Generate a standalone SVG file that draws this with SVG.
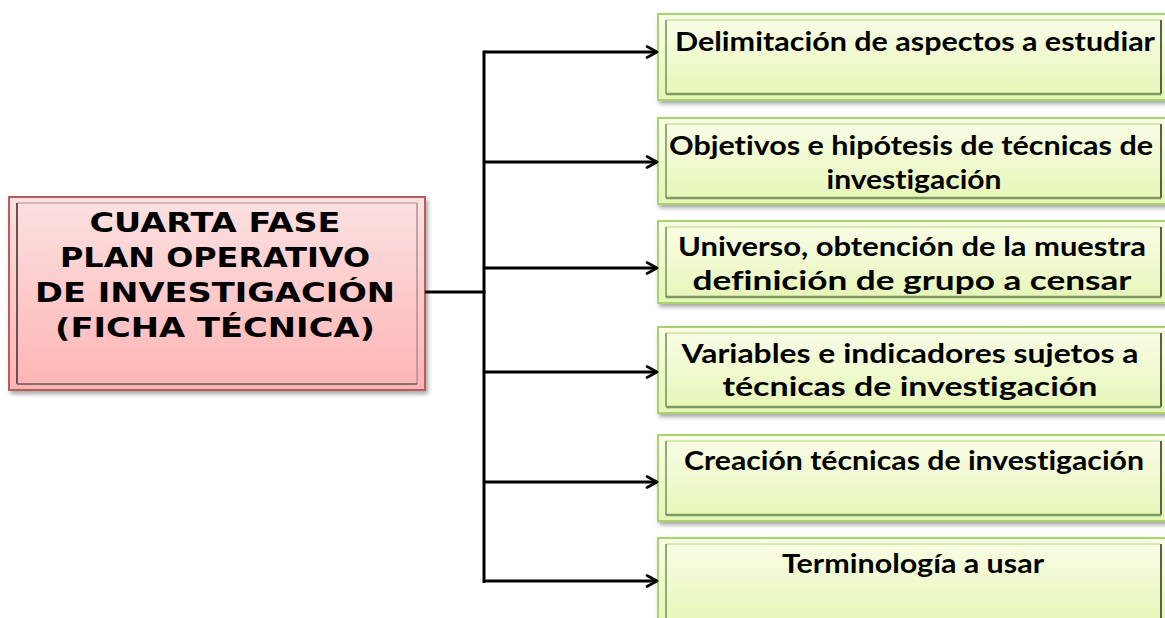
<svg xmlns="http://www.w3.org/2000/svg" width="1165" height="618" viewBox="0 0 1165 618">
<defs>
<linearGradient id="gGreen" x1="0" y1="0" x2="0" y2="1">
<stop offset="0" stop-color="#fafde8"/>
<stop offset="1" stop-color="#e6f6b6"/>
</linearGradient>
<linearGradient id="gPink" x1="0" y1="0" x2="0" y2="1">
<stop offset="0" stop-color="#fbe1e1"/>
<stop offset="1" stop-color="#ffb4b4"/>
</linearGradient>
<filter id="sh" x="-5%" y="-10%" width="115%" height="130%">
<feDropShadow dx="2" dy="3" stdDeviation="2" flood-color="#000" flood-opacity="0.35"/>
</filter>
<marker id="arr" viewBox="0 0 14 14" refX="12" refY="7" markerWidth="14" markerHeight="14" markerUnits="userSpaceOnUse" orient="auto">
<path d="M2,1.5 L12,7 L2,12.5" fill="none" stroke="#000" stroke-width="2.6" stroke-linecap="round" stroke-linejoin="round"/>
</marker>
</defs>
<style>
.gOuter{fill:url(#gGreen);stroke:#a8d46c;stroke-width:2}
.gBevL{stroke:#8fae74;stroke-width:2}
.gBevT{stroke:#d4ecac;stroke-width:2}
.gBevB{stroke:#7d9860;stroke-width:2.5}
.gBevR{stroke:#55634a;stroke-width:2}
.pOuter{fill:url(#gPink);stroke:#b85c5c;stroke-width:2}
.pBevL{stroke:#6e5050;stroke-width:2}
.pBevT{stroke:#c9a6a6;stroke-width:1.5}
.pBevB{stroke:#8c7070;stroke-width:2}
.pBevR{stroke:#b09090;stroke-width:1.5}
.gt{font-family:Lato,"Open Sans","Liberation Sans",sans-serif;font-weight:bold;font-size:27px;fill:#000;text-anchor:middle;font-variant-ligatures:none}
.pt{font-family:"DejaVu Sans",Verdana,sans-serif;font-weight:bold;font-size:26px;fill:#000;text-anchor:middle}
.conn{fill:none;stroke:#000;stroke-width:3}
</style>

<g id="main">
<rect class="pOuter" x="9" y="197" width="416" height="193" filter="url(#sh)"/>
<line class="pBevT" x1="17" y1="203" x2="417" y2="203"/>
<line class="pBevL" x1="17" y1="203" x2="17" y2="384"/>
<line class="pBevR" x1="417" y1="203" x2="417" y2="384"/>
<line class="pBevB" x1="17" y1="384" x2="417" y2="384"/>
<text class="pt" x="215" y="232" textLength="251" lengthAdjust="spacingAndGlyphs">CUARTA FASE</text>
<text class="pt" x="215" y="267" textLength="310" lengthAdjust="spacingAndGlyphs">PLAN OPERATIVO</text>
<text class="pt" x="215" y="302" textLength="360" lengthAdjust="spacingAndGlyphs">DE INVESTIGACIÓN</text>
<text class="pt" x="215" y="337" textLength="320" lengthAdjust="spacingAndGlyphs">(FICHA TÉCNICA)</text>
</g>

<g id="n1">
<rect class="gOuter" x="658" y="14" width="512" height="86" filter="url(#sh)"/>
<line class="gBevT" x1="666" y1="20" x2="1160" y2="20"/>
<line class="gBevL" x1="666" y1="20" x2="666" y2="94"/>
<line class="gBevR" x1="1161" y1="20" x2="1161" y2="94"/>
<line class="gBevB" x1="666" y1="94" x2="1161" y2="94"/>
<text class="gt" x="915" y="51" textLength="480" lengthAdjust="spacingAndGlyphs">Delimitación de aspectos a estudiar</text>
</g>

<g id="n2">
<rect class="gOuter" x="658" y="118" width="512" height="86" filter="url(#sh)"/>
<line class="gBevT" x1="666" y1="124" x2="1160" y2="124"/>
<line class="gBevL" x1="666" y1="124" x2="666" y2="198"/>
<line class="gBevR" x1="1161" y1="124" x2="1161" y2="198"/>
<line class="gBevB" x1="666" y1="198" x2="1161" y2="198"/>
<text class="gt" x="911" y="155" textLength="484" lengthAdjust="spacingAndGlyphs">Objetivos e hipótesis de técnicas de</text>
<text class="gt" x="914" y="189" textLength="175" lengthAdjust="spacingAndGlyphs">investigación</text>
</g>

<g id="n3">
<rect class="gOuter" x="658" y="221" width="512" height="82" filter="url(#sh)"/>
<line class="gBevT" x1="666" y1="227" x2="1160" y2="227"/>
<line class="gBevL" x1="666" y1="227" x2="666" y2="297"/>
<line class="gBevR" x1="1161" y1="227" x2="1161" y2="297"/>
<line class="gBevB" x1="666" y1="297" x2="1161" y2="297"/>
<text class="gt" x="912" y="256" textLength="468" lengthAdjust="spacingAndGlyphs">Universo, obtención de la muestra</text>
<text class="gt" x="912" y="290" textLength="439" lengthAdjust="spacingAndGlyphs">definición de grupo a censar</text>
</g>

<g id="n4">
<rect class="gOuter" x="658" y="327" width="512" height="86" filter="url(#sh)"/>
<line class="gBevT" x1="666" y1="333" x2="1160" y2="333"/>
<line class="gBevL" x1="666" y1="333" x2="666" y2="407"/>
<line class="gBevR" x1="1161" y1="333" x2="1161" y2="407"/>
<line class="gBevB" x1="666" y1="407" x2="1161" y2="407"/>
<text class="gt" x="910" y="363" textLength="457" lengthAdjust="spacingAndGlyphs">Variables e indicadores sujetos a</text>
<text class="gt" x="910" y="396" textLength="375" lengthAdjust="spacingAndGlyphs">técnicas de investigación</text>
</g>

<g id="n5">
<rect class="gOuter" x="658" y="435" width="512" height="86" filter="url(#sh)"/>
<line class="gBevT" x1="666" y1="441" x2="1160" y2="441"/>
<line class="gBevL" x1="666" y1="441" x2="666" y2="515"/>
<line class="gBevR" x1="1161" y1="441" x2="1161" y2="515"/>
<line class="gBevB" x1="666" y1="515" x2="1161" y2="515"/>
<text class="gt" x="914" y="470" textLength="460" lengthAdjust="spacingAndGlyphs">Creación técnicas de investigación</text>
</g>

<g id="n6">
<rect class="gOuter" x="658" y="538" width="512" height="86" filter="url(#sh)"/>
<line class="gBevT" x1="666" y1="544" x2="1160" y2="544"/>
<line class="gBevL" x1="666" y1="544" x2="666" y2="618"/>
<line class="gBevR" x1="1161" y1="544" x2="1161" y2="618"/>
<text class="gt" x="913" y="573" textLength="262" lengthAdjust="spacingAndGlyphs">Terminología a usar</text>
</g>

<g id="connectors">
<line class="conn" x1="425" y1="292" x2="485.5" y2="292"/>
<line class="conn" x1="484" y1="50.5" x2="484" y2="583"/>
<line class="conn" x1="484" y1="52" x2="657" y2="52" marker-end="url(#arr)"/>
<line class="conn" x1="484" y1="162" x2="657" y2="162" marker-end="url(#arr)"/>
<line class="conn" x1="484" y1="268" x2="657" y2="268" marker-end="url(#arr)"/>
<line class="conn" x1="484" y1="372" x2="657" y2="372" marker-end="url(#arr)"/>
<line class="conn" x1="484" y1="482" x2="657" y2="482" marker-end="url(#arr)"/>
<line class="conn" x1="484" y1="581" x2="657" y2="581" marker-end="url(#arr)"/>
</g>
</svg>
